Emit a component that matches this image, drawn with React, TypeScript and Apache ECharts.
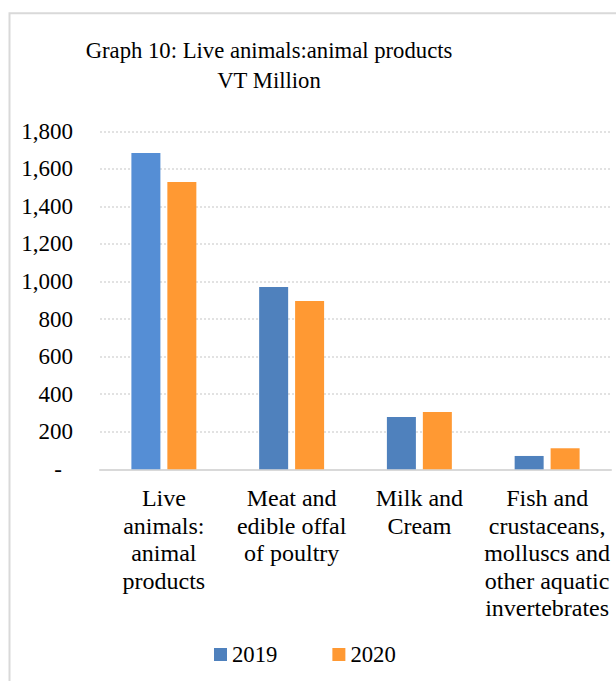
import React, { useEffect, useRef } from "react";
import * as echarts from "echarts";

const categories = [
  "Live\nanimals:\nanimal\nproducts",
  "Meat and\nedible offal\nof poultry",
  "Milk and\nCream",
  "Fish and\ncrustaceans,\nmolluscs and\nother aquatic\ninvertebrates",
];
const values2019 = [1685, 971, 279, 71];
const values2020 = [1530, 896, 305, 112];
const seriesNames = ["2019", "2020"];

const FONT = "Liberation Serif";
const BLUE = "#4F81BD";
const BLUE_FIRST = "#558ED5";
const ORANGE = "#FF9933";

export default function App() {
  const ref = useRef<HTMLDivElement>(null);
  useEffect(() => {
    if (!ref.current) return;
    const chart = echarts.init(ref.current, null, { renderer: "svg" });
    chart.setOption({
      animation: false,
      backgroundColor: "#ffffff",
      textStyle: { fontFamily: FONT, fontSize: 23 },
      graphic: [
        {
          type: "rect",
          shape: { x: 9.5, y: 13.3, width: 800, height: 800 },
          style: { fill: "none", stroke: "#D9D9D9", lineWidth: 2 },
          silent: true,
        },
      ],
      title: {
        text: "Graph 10: Live animals:animal products\nVT Million",
        left: 264,
        textAlign: "center",
        top: 30,
        textStyle: {
          fontFamily: FONT,
          fontSize: 22.7,
          fontWeight: "normal",
          color: "#000000",
          lineHeight: 30,
        },
      },
      legend: {
        data: seriesNames,
        left: 209,
        top: 638,
        itemWidth: 13,
        itemHeight: 13,
        itemGap: 55,
        icon: "rect",
        textStyle: { fontFamily: FONT, fontSize: 22.7, color: "#000000" },
      },
      grid: { left: 100, right: 5, top: 131.3, bottom: 211.7, containLabel: false },
      xAxis: {
        type: "category",
        data: categories,
        axisLine: { show: true, lineStyle: { color: "#D9D9D9", width: 2 } },
        axisTick: { show: false },
        axisLabel: {
          fontFamily: FONT,
          fontSize: 24,
          color: "#000000",
          lineHeight: 27.5,
          margin: 15,
          interval: 0,
          align: "center",
        },
      },
      yAxis: {
        type: "value",
        min: 0,
        max: 1800,
        interval: 200,
        axisLine: { show: false },
        axisTick: { show: false },
        splitLine: { show: true, lineStyle: { color: "#D9D9D9", width: 1.5, type: [2, 2] } },
        axisLabel: {
          fontFamily: FONT,
          fontSize: 23,
          color: "#000000",
          margin: 27,
          formatter: (v: number) => (v === 0 ? "{d|-}" : v.toLocaleString("en-US")),
          rich: {
            d: { fontFamily: FONT, fontSize: 23, color: "#000000", padding: [0, 11, 0, 0] },
          },
        },
      },
      series: [
        {
          name: seriesNames[0],
          type: "bar",
          data: values2019.map((v, i) =>
            i === 0 ? { value: v, itemStyle: { color: BLUE_FIRST } } : v
          ),
          itemStyle: { color: BLUE },
          barWidth: 29,
          barGap: "24%",
        },
        {
          name: seriesNames[1],
          type: "bar",
          data: values2020,
          itemStyle: { color: ORANGE },
          barWidth: 29,
          barGap: "24%",
        },
      ],
    });
    return () => chart.dispose();
  }, []);
  return (
    <div
      ref={ref}
      style={{ position: "absolute", left: 0, top: 0, width: 616, height: 681 }}
    />
  );
}
